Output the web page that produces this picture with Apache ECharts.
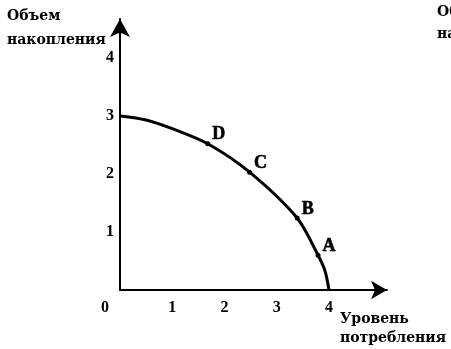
<!DOCTYPE html>
<html>
<head>
<meta charset="utf-8">
<script src="https://cdn.jsdelivr.net/npm/echarts@6/dist/echarts.min.js"></script>
<style>html,body{margin:0;padding:0;background:#fff;}#c{width:451px;height:349px;}</style>
</head>
<body>
<div id="c"></div>
<script>
// Curve (production possibilities frontier)
const curveX = [0, 0.5, 1.0, 1.68, 2.48, 3.39, 3.79, 3.92, 4.0];
const curveY = [3, 2.93, 2.78, 2.52, 2.03, 1.24, 0.60, 0.34, 0];
// Labelled points on the curve
const pointNames = ['D', 'C', 'B', 'A'];
const pointX = [1.68, 2.48, 3.39, 3.79];
const pointY = [2.52, 2.03, 1.24, 0.60];
// Tick labels
const xTickLabels = [0, 1, 2, 3, 4];
const yTickLabels = [1, 2, 3, 4];
const yTitle = ['Объем', 'накопления'];
const xTitle = ['Уровень', 'потребления'];

const serif = "'Liberation Serif', 'Times New Roman', serif";
const titleFont = "'DejaVu Serif', serif";

const chart = echarts.init(document.getElementById('c'), null, {renderer: 'canvas'});
chart.setOption({
  animation: false,
  backgroundColor: '#fff',
  grid: {left: 120, right: 64, top: 19, bottom: 59, containLabel: false},
  xAxis: {
    type: 'value', min: 0, max: 5.11, interval: 1,
    axisLine: {show: true, symbol: ['none', 'arrow'], symbolSize: [14, 16], lineStyle: {color: '#000', width: 2}},
    axisTick: {show: false}, splitLine: {show: false},
    axisLabel: {
      margin: 10, color: '#000', fontFamily: serif, fontWeight: 'bold', fontSize: 16,
      formatter: v => (v === 0 ? '{z|0}' : (xTickLabels.includes(v) ? String(v) : '')),
      rich: {z: {padding: [0, 30, 0, 0], fontFamily: serif, fontWeight: 'bold', fontSize: 16, color: '#000'}}
    }
  },
  yAxis: {
    type: 'value', min: 0, max: 4.67, interval: 1,
    axisLine: {show: true, symbol: ['none', 'arrow'], symbolSize: [15, 18], lineStyle: {color: '#000', width: 2}},
    axisTick: {show: false}, splitLine: {show: false},
    axisLabel: {
      margin: 6, color: '#000', fontFamily: serif, fontWeight: 'bold', fontSize: 16,
      formatter: v => (yTickLabels.includes(v) ? String(v) : '')
    }
  },
  graphic: [
    {type: 'text', left: 7, top: 9, style: {text: yTitle[0], font: "bold 14px " + titleFont, fill: '#000'}},
    {type: 'text', left: 7, top: 33, style: {text: yTitle[1], font: "bold 14px " + titleFont, fill: '#000'}},
    {type: 'text', left: 437, top: 5, style: {text: yTitle[0], font: "bold 14px " + titleFont, fill: '#000'}},
    {type: 'text', left: 437, top: 27, style: {text: yTitle[1], font: "bold 14px " + titleFont, fill: '#000'}},
    {type: 'text', left: 340, top: 312, style: {text: xTitle[0], font: "bold 14px " + titleFont, fill: '#000'}},
    {type: 'text', left: 340, top: 331, style: {text: xTitle[1], font: "bold 14px " + titleFont, fill: '#000'}}
  ],
  series: [
    {
      type: 'line', smooth: 0.3, showSymbol: false, silent: true,
      lineStyle: {color: '#000', width: 3},
      data: curveX.map((x, i) => [x, curveY[i]])
    },
    {
      type: 'scatter', symbolSize: 5, itemStyle: {color: '#000', opacity: 1},
      label: {
        show: true, position: 'right', distance: 2, offset: [0, -9],
        formatter: p => p.data[2], color: '#000', opacity: 1,
        textBorderColor: '#000', textBorderWidth: 0.6,
        fontFamily: serif, fontWeight: 'bold', fontSize: 18
      },
      data: pointX.map((x, i) => [x, pointY[i], pointNames[i]])
    }
  ]
});
</script>
</body>
</html>
